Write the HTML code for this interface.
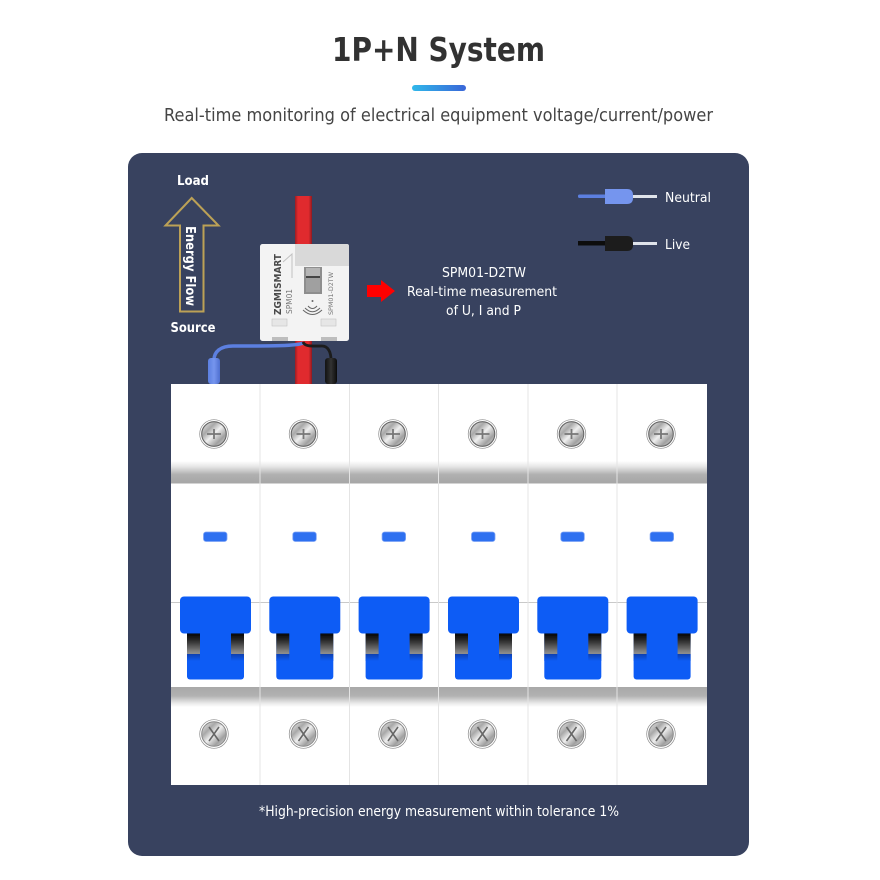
<!DOCTYPE html>
<html><head><meta charset="utf-8"><style>
html,body{margin:0;padding:0;background:#fff;width:880px;height:880px;overflow:hidden}
svg{display:block}
text{font-family:"DejaVu Sans","Liberation Sans",sans-serif}
</style></head><body>
<svg width="880" height="880" viewBox="0 0 880 880" xmlns="http://www.w3.org/2000/svg">
<defs>
<filter id="soft" x="-5%" y="-5%" width="110%" height="110%"><feGaussianBlur stdDeviation="0.35"/></filter>
<linearGradient id="pill" x1="0" x2="1" y1="0" y2="0"><stop offset="0" stop-color="#2fb8ea"/><stop offset="1" stop-color="#3a66d8"/></linearGradient>
<linearGradient id="red" x1="0" x2="1" y1="0" y2="0"><stop offset="0" stop-color="#9c1c22"/><stop offset=".18" stop-color="#e02b2e"/><stop offset=".8" stop-color="#e02b2e"/><stop offset="1" stop-color="#8f1a20"/></linearGradient>
<linearGradient id="bandT" x1="0" x2="0" y1="0" y2="1"><stop offset="0" stop-color="#fff"/><stop offset=".25" stop-color="#e6e6e6"/><stop offset=".6" stop-color="#b0b0b0"/><stop offset="1" stop-color="#a6a6a6"/></linearGradient>
<linearGradient id="bandB" x1="0" x2="0" y1="0" y2="1"><stop offset="0" stop-color="#a8a8a8"/><stop offset=".45" stop-color="#b2b2b2"/><stop offset=".8" stop-color="#e8e8e8"/><stop offset="1" stop-color="#fff"/></linearGradient>
<linearGradient id="slot" x1="0" x2="0" y1="0" y2="1"><stop offset="0" stop-color="#000"/><stop offset=".35" stop-color="#2a2a2a"/><stop offset=".95" stop-color="#8c8c8c"/><stop offset="1" stop-color="#8c8c8c"/></linearGradient>
<linearGradient id="slotB" x1="0" x2="0" y1="0" y2="1"><stop offset="0" stop-color="#0b3fb0"/><stop offset="1" stop-color="#0f5cf5"/></linearGradient>
<linearGradient id="metal" x1="0" x2="1" y1="0" y2="1"><stop offset="0" stop-color="#f5f5f5"/><stop offset=".3" stop-color="#a8a8a8"/><stop offset=".5" stop-color="#efefef"/><stop offset=".75" stop-color="#a0a0a0"/><stop offset="1" stop-color="#e4e4e4"/></linearGradient>
<linearGradient id="blueT" x1="0" x2="1" y1="0" y2="0"><stop offset="0" stop-color="#5b7fe0"/><stop offset=".5" stop-color="#7595ee"/><stop offset="1" stop-color="#4f6fd0"/></linearGradient>
<linearGradient id="blackT" x1="0" x2="1" y1="0" y2="0"><stop offset="0" stop-color="#111"/><stop offset=".5" stop-color="#333"/><stop offset="1" stop-color="#0c0c0c"/></linearGradient>
<g id="screwT">
<circle r="14.300" fill="#fff" stroke="#8a8a8a" stroke-width=".7"/>
<circle r="12.300" fill="url(#metal)" stroke="#666" stroke-width="1.100"/>
<path d="M-7 0H7M0 -5V5" stroke="#777" stroke-width="1.800"/>
</g>
<g id="screwB">
<circle r="14.300" fill="#fff" stroke="#8a8a8a" stroke-width=".7"/>
<circle r="12.300" fill="url(#metal)" stroke="#888" stroke-width="1"/>
<path d="M-5 -7L5 7M5 -7L-5 7" stroke="#666" stroke-width="1.600"/>
</g>
<g id="sw">
<rect x="187" y="630" width="57" height="49.500" rx="3" fill="#0f5cf5"/>
<rect x="187" y="633" width="13" height="21" fill="url(#slot)"/>
<rect x="231" y="633" width="13" height="21" fill="url(#slot)"/>
<rect x="187" y="654" width="13" height="7" fill="url(#slotB)"/>
<rect x="231" y="654" width="13" height="7" fill="url(#slotB)"/>
<rect x="180" y="596.500" width="71" height="37" rx="4" fill="#0f5cf5"/>
<rect x="203.500" y="532" width="23.500" height="9.500" rx="2.500" fill="#2f6ff0" stroke="#7da4f5" stroke-width=".8"/>
</g>
</defs>

<g filter="url(#soft)">
<text x="438.500" y="61" font-size="32.500" font-weight="700" fill="#333" text-anchor="middle" textLength="213" lengthAdjust="spacingAndGlyphs">1P+N System</text>
<rect x="412" y="85" width="54" height="6" rx="3" fill="url(#pill)"/>
<text x="438.500" y="121" font-size="18" fill="#444" text-anchor="middle" textLength="549" lengthAdjust="spacingAndGlyphs">Real-time monitoring of electrical equipment voltage/current/power</text>

<rect x="128" y="153" width="621" height="703" rx="14" fill="#37435f"/>

<text x="193" y="185" font-size="13" font-weight="700" fill="#fff" text-anchor="middle" textLength="32" lengthAdjust="spacingAndGlyphs">Load</text>
<polygon points="191.700,198 165.500,225.500 180,225.500 180,311.500 203.500,311.500 203.500,225.500 218.500,225.500" fill="none" stroke="#bca157" stroke-width="2"/>
<text transform="translate(186,226) rotate(90)" font-size="13" font-weight="700" fill="#fff" textLength="80" lengthAdjust="spacingAndGlyphs">Energy Flow</text>
<text x="193" y="332" font-size="13" font-weight="700" fill="#fff" text-anchor="middle" textLength="45" lengthAdjust="spacingAndGlyphs">Source</text>

<rect x="295" y="196" width="17" height="189" fill="url(#red)"/>

<path d="M303 343 C298 346 270 346 233 346 C220 346 214 352 214 360" fill="none" stroke="#5c7fe0" stroke-width="3.500"/>
<path d="M303 342 C305 347 312 346 322 346 C328 346 331 352 331 360" fill="none" stroke="#1a1a1a" stroke-width="2.800"/>
<rect x="208" y="358" width="12" height="26" rx="3" fill="url(#blueT)"/>
<rect x="325" y="358" width="12" height="26" rx="3" fill="url(#blackT)"/>

<rect x="260" y="244" width="89" height="97" rx="2.500" fill="#f3f3f3"/>
<path d="M295 244H347Q349 244 349 246V266H295Z" fill="#d9d9d9"/>
<rect x="304" y="267" width="18" height="27" fill="#8e8e8e"/>
<rect x="306" y="268" width="14" height="24" fill="#b5b5b5"/>
<rect x="306" y="276" width="14" height="2" fill="#444"/>
<rect x="306" y="278" width="14" height="14" fill="#a0a0a0"/>
<path d="M283 262L292 254V278" fill="none" stroke="#c2c2c2" stroke-width="1"/>
<text transform="translate(281,315) rotate(-90)" font-size="9.500" font-weight="700" fill="#4a4a4a" textLength="61" lengthAdjust="spacingAndGlyphs">ZGMISMART</text>
<text transform="translate(292,314) rotate(-90)" font-size="8" fill="#777" textLength="25" lengthAdjust="spacingAndGlyphs">SPM01</text>
<text transform="translate(333,315) rotate(-90)" font-size="6.500" fill="#777" textLength="43" lengthAdjust="spacingAndGlyphs">SPM01-D2TW</text>
<g fill="none" stroke="#666" stroke-width="1">
<path d="M308 306Q312.500 311 317 306"/>
<path d="M305 308Q312.500 315.500 320 308"/>
<path d="M303 310Q312.500 319 322 310"/>
</g>
<circle cx="312.500" cy="301" r="1" fill="#666"/>
<rect x="272" y="319" width="15" height="7" fill="#e6e6e6" stroke="#c4c4c4" stroke-width=".6"/>
<rect x="321" y="319" width="15" height="7" fill="#e6e6e6" stroke="#c4c4c4" stroke-width=".6"/>
<rect x="272" y="337" width="16" height="4" fill="#bdbdbd"/>
<rect x="321" y="337" width="16" height="4" fill="#bdbdbd"/>

<polygon points="367,285 381,285 381,280 395,291 381,302 381,297 367,297" fill="#f00"/>
<text x="484" y="277" font-size="13" fill="#fff" text-anchor="middle" textLength="84" lengthAdjust="spacingAndGlyphs">SPM01-D2TW</text>
<text x="482" y="296" font-size="13" fill="#fff" text-anchor="middle" textLength="150" lengthAdjust="spacingAndGlyphs">Real-time measurement</text>
<text x="483.500" y="315" font-size="13" fill="#fff" text-anchor="middle" textLength="75" lengthAdjust="spacingAndGlyphs">of U, I and P</text>

<rect x="578" y="194.500" width="28" height="3.500" rx="1.500" fill="#5c7fe0"/>
<path d="M605 189H627Q633 189 633 195V198Q633 204 627 204H605Z" fill="#7595ee"/>
<rect x="633" y="195" width="24" height="3" fill="#dfe3ea"/>
<text x="665" y="202" font-size="13.500" fill="#fff" textLength="46" lengthAdjust="spacingAndGlyphs">Neutral</text>
<rect x="578" y="241" width="28" height="4.500" fill="#111"/>
<path d="M605 236H627Q633 236 633 242V245Q633 251 627 251H605Z" fill="#1c1c1c"/>
<rect x="633" y="242" width="24" height="3" fill="#dfe3ea"/>
<text x="665" y="249" font-size="13.500" fill="#fff" textLength="25" lengthAdjust="spacingAndGlyphs">Live</text>

<rect x="171" y="384" width="536" height="401" fill="#fff"/>
<rect x="171" y="461" width="536" height="22.500" fill="url(#bandT)"/>
<rect x="171" y="687" width="536" height="20" fill="url(#bandB)"/>
<rect x="171" y="602" width="536" height="1" fill="#c9c9c9"/>
<g stroke="#e4e4e4" stroke-width="1">
<path d="M260 384V785M349.500 384V785M438.500 384V785M528 384V785M617 384V785"/>
</g>
<use href="#sw"/>
<use href="#sw" x="89.300"/>
<use href="#sw" x="178.600"/>
<use href="#sw" x="268"/>
<use href="#sw" x="357.300"/>
<use href="#sw" x="446.600"/>
<use href="#screwT" x="214" y="434"/>
<use href="#screwT" x="303.500" y="434"/>
<use href="#screwT" x="393" y="434"/>
<use href="#screwT" x="482.500" y="434"/>
<use href="#screwT" x="571.500" y="434"/>
<use href="#screwT" x="661" y="434"/>
<use href="#screwB" x="214" y="734"/>
<use href="#screwB" x="303.500" y="734"/>
<use href="#screwB" x="393" y="734"/>
<use href="#screwB" x="482.500" y="734"/>
<use href="#screwB" x="571.500" y="734"/>
<use href="#screwB" x="661" y="734"/>

<text x="439" y="816" font-size="14" fill="#fff" text-anchor="middle" textLength="360" lengthAdjust="spacingAndGlyphs">*High-precision energy measurement within tolerance 1%</text>
</g>
</svg>
</body></html>
